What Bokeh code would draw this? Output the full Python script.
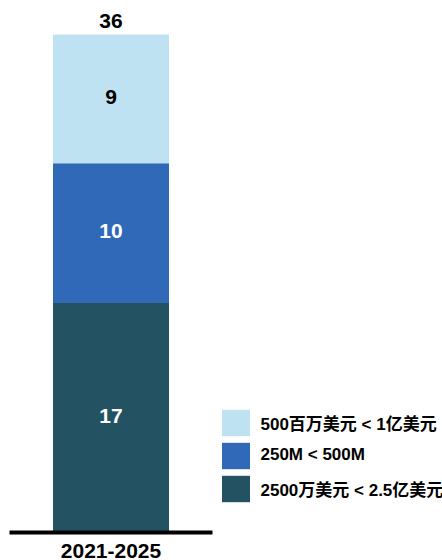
from bokeh.plotting import figure
from bokeh.models import Range1d, ColumnDataSource, Legend, LegendItem, FixedTicker
from bokeh.core.properties import value
from bokeh.embed import file_html
from bokeh.resources import INLINE

# ---- data ----
periods = ["2021-2025"]
series_names = ["2500万美元 < 2.5亿美元", "250M < 500M", "500百万美元 < 1亿美元"]
series_keys = ["small", "mid", "large"]
small = [16.6]
mid = [10.1]
large = [9.3]
seg_labels = ["17", "10", "9"]
total_label = ["36"]
colors = ["#235262", "#2F69B7", "#BEE2F1"]
label_colors = ["white", "white", "black"]

FONT = "Liberation Sans, Arial, Noto Sans CJK SC"

xpos = [i + 0.5 for i in range(len(periods))]
src = ColumnDataSource(dict(x=xpos, small=small, mid=mid, large=large))

p = figure(width=442, height=560, x_range=Range1d(0, 433 / 203),
           y_range=Range1d(0, 38.46), output_backend="svg", toolbar_location=None,
           y_axis_location=None, min_border_left=9, min_border_right=0,
           min_border_top=0, min_border_bottom=0)
p.outline_line_color = None
p.xgrid.visible = False
p.ygrid.visible = False

renderers = p.vbar_stack(series_keys, x="x", width=0.5714, color=colors,
                         line_color=None, source=src)

# segment labels at midpoints of stacked segments
vals = [small[0], mid[0], large[0]]
mids = []
acc = 0
for v in vals:
    mids.append(acc + v / 2)
    acc += v
lab_src = ColumnDataSource(dict(x=xpos * 3, y=mids, text=seg_labels, color=label_colors))
p.text(x="x", y="y", text="text", text_color="color", source=lab_src,
       text_font=value(FONT), text_font_style="bold", text_font_size="21px",
       text_align="center", text_baseline="middle", y_offset=-2)

tot_src = ColumnDataSource(dict(x=xpos, y=[acc], text=total_label))
p.text(x="x", y="y", text="text", source=tot_src, text_color="black",
       text_font=value(FONT), text_font_style="bold", text_font_size="21px",
       text_align="center", text_baseline="alphabetic", y_offset=-14)

# axis
ax = p.xaxis[0]
ax.ticker = FixedTicker(ticks=xpos)
ax.major_label_overrides = {x: lab for x, lab in zip(xpos, periods)}
ax.bounds = (0, len(periods))
ax.axis_line_color = "black"
ax.axis_line_width = 4
ax.major_tick_line_color = None
ax.minor_tick_line_color = None
ax.major_label_standoff = 5
ax.major_label_text_font = FONT
ax.major_label_text_font_style = "bold"
ax.major_label_text_font_size = "21px"
ax.major_label_text_color = "black"

# legend (top-to-bottom: large, mid, small)
items = [LegendItem(label=series_names[i], renderers=[renderers[i]]) for i in (2, 1, 0)]
legend = Legend(items=items, location=(208.5, 27.5), padding=0, margin=0, spacing=0,
                glyph_width=35, glyph_height=33, label_height=33, label_standoff=8,
                label_text_font=FONT, label_text_font_style="bold",
                label_text_font_size="17px", label_text_color="black",
                border_line_color=None, background_fill_alpha=0)
p.add_layout(legend, "center")

open("out.html", "w").write(file_html(p, INLINE))
